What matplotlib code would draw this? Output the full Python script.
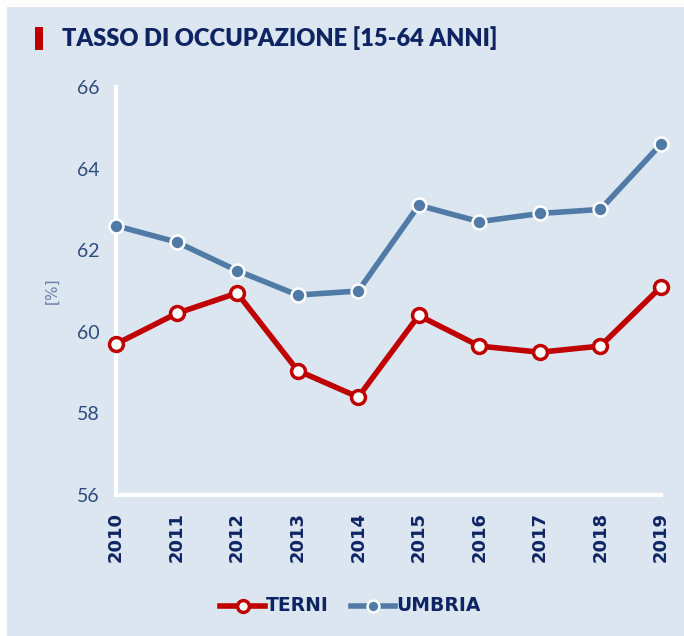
import numpy as np
import matplotlib.pyplot as plt
from matplotlib.patches import Rectangle

# dati
anni = [2010, 2011, 2012, 2013, 2014, 2015, 2016, 2017, 2018, 2019]
terni = [59.7, 60.45, 60.95, 59.05, 58.4, 60.4, 59.65, 59.5, 59.65, 61.1]
umbria = [62.6, 62.2, 61.5, 60.9, 61.0, 63.1, 62.7, 62.9, 63.0, 64.6]
y_ticks = [56, 58, 60, 62, 64, 66]

bg = '#dce6f1'
navy = '#0f2463'
rosso = '#c00000'
blu = '#4f7ba6'

fig = plt.figure(figsize=(6.84, 6.36), dpi=100)
fig.patch.set_facecolor('white')

# sfondo azzurro
fig.add_artist(Rectangle((7/684, 0), 677/684, 629/636, transform=fig.transFigure,
                         facecolor=bg, edgecolor='none', zorder=-2))
# barretta rossa del titolo
fig.add_artist(Rectangle((35/684, 1 - 50/636), 8/684, 23/636, transform=fig.transFigure,
                         facecolor=rosso, edgecolor='none', zorder=-1))
fig.text(62/684, 1 - 38/636, 'TASSO DI OCCUPAZIONE [15-64 ANNI]', color=navy,
         fontsize=17, fontweight='heavy', va='center', ha='left', family='Lato')

ax = fig.add_axes([116/684, 141/636, 545/684, 408/636])
ax.set_facecolor('none')
ax.set_zorder(5)

ax.plot(anni, terni, color=rosso, lw=4, marker='o', ms=10, mfc='white',
        mec=rosso, mew=2.5, clip_on=False, zorder=3, label='TERNI')
ax.plot(anni, umbria, color=blu, lw=4, marker='o', ms=10, mfc=blu,
        mec='white', mew=1.8, clip_on=False, zorder=3, label='UMBRIA')

ax.set_xlim(2010, 2019)
ax.set_ylim(56, 66)
ax.set_yticks(y_ticks)
ax.set_xticks(anni)
ax.set_xticklabels([str(a) for a in anni], rotation=90, fontweight='bold',
                   fontsize=13, color=navy)
ax.tick_params(axis='y', length=0, pad=12, labelsize=14, labelcolor='#2f4b7c')
ax.tick_params(axis='x', length=0, pad=12)
for lab in ax.get_yticklabels():
    lab.set_family('Lato')

for s in ['top', 'right']:
    ax.spines[s].set_visible(False)
for s in ['left', 'bottom']:
    ax.spines[s].set_color('white')
    ax.spines[s].set_linewidth(3)

ax.set_ylabel('[%]', color='#6a80a8', fontsize=11, labelpad=12)

leg = ax.legend(loc='center', bbox_to_anchor=(0.43, -0.27), ncol=2, frameon=False,
                handlelength=3.2, columnspacing=1.6, handletextpad=0.05,
                markerscale=0.85)
for t in leg.get_texts():
    t.set_color(navy)
    t.set_fontweight('bold')
    t.set_fontsize(13.5)

fig.savefig('out.png', dpi=100, facecolor=fig.get_facecolor())
